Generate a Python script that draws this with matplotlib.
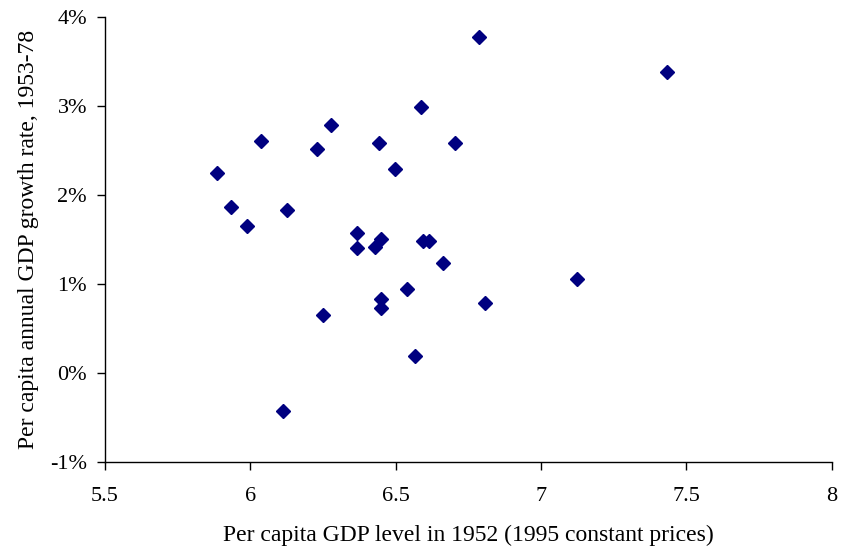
import matplotlib
matplotlib.use('Agg')
import matplotlib.pyplot as plt
from matplotlib.ticker import FuncFormatter

# per capita GDP level in 1952 (log, 1995 constant prices)
gdp_1952 = [5.884, 5.933, 5.988, 6.037, 6.111, 6.126, 6.229, 6.249, 6.276,
            6.366, 6.366, 6.429, 6.449, 6.442, 6.448, 6.448, 6.497, 6.538,
            6.566, 6.586, 6.594, 6.616, 6.662, 6.704, 6.807, 6.787, 7.124,
            7.433]
# per capita annual GDP growth rate 1953-78, in %
growth = [2.24, 1.86, 1.65, 2.60, -0.43, 1.83, 2.51, 0.645, 2.78,
          1.57, 1.40, 1.41, 1.50, 2.58, 0.83, 0.73, 2.29, 0.94,
          0.19, 2.98, 1.48, 1.48, 1.23, 2.58, 0.78, 3.77, 1.05,
          3.38]

x_ticks = [5.5, 6, 6.5, 7, 7.5, 8]
y_ticks = [-1, 0, 1, 2, 3, 4]

plt.rcParams['font.family'] = ['Liberation Serif', 'DejaVu Serif']

fig = plt.figure(figsize=(8.43, 5.55), dpi=100)
ax = fig.add_axes([0.1246, 0.168, 0.862, 0.802])

ax.plot(gdp_1952, growth, linestyle='none', marker='D', markersize=7.2,
        color='#000080', markeredgecolor='#000080')

ax.set_xlim(5.5, 8)
ax.set_ylim(-1, 4)
ax.set_xticks(x_ticks)
ax.set_yticks(y_ticks)
ax.xaxis.set_major_formatter(FuncFormatter(lambda v, p: f"{v:g}"))
ax.yaxis.set_major_formatter(FuncFormatter(lambda v, p: f"{v:.0f}%"))

ax.spines['top'].set_visible(False)
ax.spines['right'].set_visible(False)
ax.spines['left'].set_linewidth(1.0)
ax.spines['bottom'].set_linewidth(1.0)
ax.tick_params(direction='out', length=6, width=1, labelsize=16)
ax.tick_params(axis='x', pad=12)
ax.tick_params(axis='y', pad=7)

ax.set_xlabel('Per capita GDP level in 1952 (1995 constant prices)', fontsize=17, labelpad=14)
ax.set_ylabel('Per capita annual GDP growth rate, 1953-78', fontsize=17, labelpad=8)

fig.savefig('out.png', dpi=100)
